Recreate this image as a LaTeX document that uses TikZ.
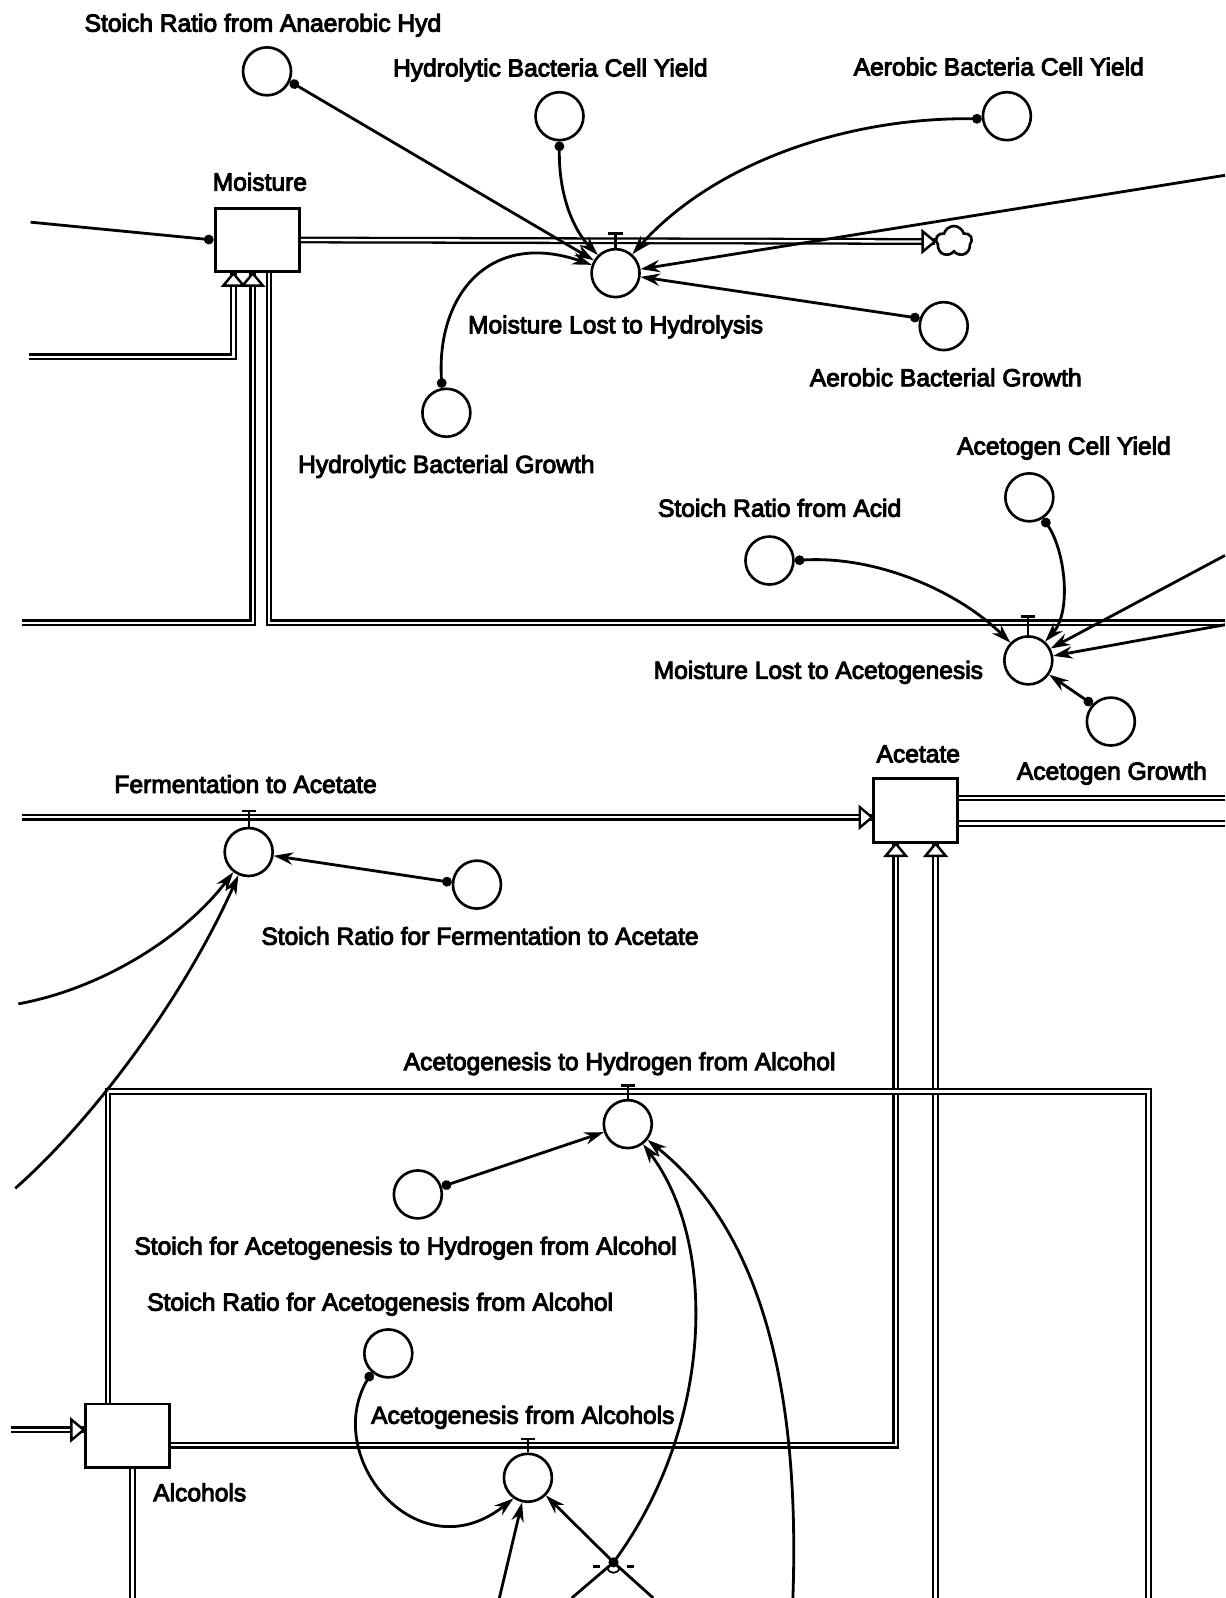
\documentclass[tikz,border=0pt]{standalone}
\usepackage{fontspec}
\setmainfont{Liberation Sans}
\newfontfamily\lblfont{Liberation Sans}[FakeBold=4]
\usetikzlibrary{arrows.meta,shapes.symbols}
\tikzset{
  stockbox/.style={draw,line width=1.7pt,fill=white,
                   minimum width=1.69cm,minimum height=1.28cm,inner sep=0pt},
  auxnode/.style={draw,circle,line width=1.5pt,fill=white,
                  minimum size=0.96cm,inner sep=0pt},
  lbl/.style={anchor=base,inner sep=0pt,font=\lblfont\fontsize{14}{17}\selectfont},
  pipe/.style={line width=1.3pt,double=white,double distance=1.3pt},
  infoarr/.style={{Circle[length=5.5pt]}-{Stealth[length=11pt,width=7pt]},line width=1.6pt},
  infotail/.style={{Circle[length=5.5pt]}-,line width=1.6pt},
  edgearr/.style={-{Stealth[length=11pt,width=7pt]},line width=1.6pt},
  valvemark/.style={line width=1.3pt},
  sinkcloud/.style={cloud,cloud puffs=5,draw,line width=1.5pt,
                    minimum width=0.72cm,minimum height=0.62cm,inner sep=0pt},
  flowtip/.pic={\draw[line width=1.4pt,fill=white] (0,0) -- (-12,-10) -- (-12,10) -- cycle;}
}

\begin{document}
\begin{tikzpicture}[x=0.0204cm,y=-0.0204cm]
  \useasboundingbox[fill=white] (0,0) rectangle (1202,1568);
  % stocks and sink
  \node[stockbox] (moist) at (252.5,235.5) {};
  \node[stockbox] (acet) at (898.5,795) {};
  \node[stockbox] (alc) at (125,1409) {};
  \node[sinkcloud] (sink) at (936,237) {};
  % rates and auxiliaries
  \node[auxnode] (sraHyd) at (262,70) {};
  \node[auxnode] (hbcy) at (549,114) {};
  \node[auxnode] (abcy) at (988,114) {};
  \node[auxnode] (mlh) at (604,268) {};
  \node[auxnode] (abg) at (926,320) {};
  \node[auxnode] (hbg) at (438,405) {};
  \node[auxnode] (acy) at (1010,488) {};
  \node[auxnode] (sra) at (755,550) {};
  \node[auxnode] (mla) at (1009,648) {};
  \node[auxnode] (ag) at (1090,708) {};
  \node[auxnode] (fta) at (244,836) {};
  \node[auxnode] (srf) at (468,868) {};
  \node[auxnode] (aha) at (616,1103) {};
  \node[auxnode] (sah) at (410,1172) {};
  \node[auxnode] (sraa) at (381,1328) {};
  \node[auxnode] (afa) at (518,1450) {};
  % labels
  \node[lbl] (sraHydL) at (258,31) {Stoich Ratio from Anaerobic Hyd};
  \node[lbl] (hbcyL) at (540,75) {Hydrolytic Bacteria Cell Yield};
  \node[lbl] (abcyL) at (980,74) {Aerobic Bacteria Cell Yield};
  \node[lbl] (moistL) at (255,187) {Moisture};
  \node[lbl] (mlhL) at (604,327) {Moisture Lost to Hydrolysis};
  \node[lbl] (abgL) at (928,379) {Aerobic Bacterial Growth};
  \node[lbl] (hbgL) at (438,464) {Hydrolytic Bacterial Growth};
  \node[lbl] (acyL) at (1044,446) {Acetogen Cell Yield};
  \node[lbl] (sraL) at (765,507) {Stoich Ratio from Acid};
  \node[lbl] (mlaL) at (803,666) {Moisture Lost to Acetogenesis};
  \node[lbl] (acetL) at (901,748) {Acetate};
  \node[lbl] (agL) at (1091,765) {Acetogen Growth};
  \node[lbl] (ftaL) at (241,778) {Fermentation to Acetate};
  \node[lbl] (srfL) at (471,927) {Stoich Ratio for Fermentation to Acetate};
  \node[lbl] (ahaL) at (608,1050) {Acetogenesis to Hydrogen from Alcohol};
  \node[lbl] (sahL) at (398,1231) {Stoich for Acetogenesis to Hydrogen from Alcohol};
  \node[lbl] (sraaL) at (373,1286) {Stoich Ratio for Acetogenesis from Alcohol};
  \node[lbl] (afaL) at (513,1397) {Acetogenesis from Alcohols};
  \node[lbl] (alcL) at (196,1473) {Alcohols};
  % flows
  \draw[pipe] (moist.east) -- (sink.west);
  \draw[pipe] (28,350) -| (229,0 |- moist.south);
  \draw[pipe] (22,611) -| (248,0 |- moist.south);
  \draw[pipe] (264,0 |- moist.south) |- (1202,611);
  \draw[pipe] (22,802) -- (acet.west |- 0,802);
  \draw[pipe] (acet.east |- 0,783) -- (1202,783);
  \draw[pipe] (acet.east |- 0,808) -- (1202,808);
  \draw[pipe] (alc.east |- 0,1418) -| (879,0 |- acet.south);
  \draw[pipe] (918,1568) -- (918,0 |- acet.south);
  \draw[pipe] (11,1403) -- (alc.west |- 0,1403);
  \draw[pipe] (106,0 |- alc.north) |- (1127,1071) -- (1127,1568);
  \draw[pipe] (130,0 |- alc.south) -- (130,1568);
  % flow heads
  \pic at (sink.west) {flowtip};
  \pic[rotate=90] at (229,0 |- moist.south) {flowtip};
  \pic[rotate=90] at (248,0 |- moist.south) {flowtip};
  \pic at (acet.west |- 0,802) {flowtip};
  \pic[rotate=90] at (879,0 |- acet.south) {flowtip};
  \pic[rotate=90] at (918,0 |- acet.south) {flowtip};
  \pic at (alc.west |- 0,1403) {flowtip};
  % valves
  \draw[valvemark] (mlh.north) -- (604,229) ++(-7,0) -- ++(14,0);
  \draw[valvemark] (mla.north) -- (1009,605) ++(-7,0) -- ++(14,0);
  \draw[valvemark] (fta.north) -- (244,796) ++(-7,0) -- ++(14,0);
  \draw[valvemark] (aha.north) -- (616,1065) ++(-7,0) -- ++(14,0);
  \draw[valvemark] (afa.north) -- (518,1412) ++(-7,0) -- ++(14,0);
  % loose ends of connectors
  \coordinate (mInfo) at (30,218);
  \coordinate (rTopA) at (1202,172);
  \coordinate (rAcA) at (1202,545);
  \coordinate (rAcB) at (1202,613);
  \coordinate (lFermA) at (18,985);
  \coordinate (lFermB) at (15,1166);
  \coordinate (botA) at (490,1568);
  \coordinate (botB) at (641,1568);
  \coordinate (botC) at (561,1568);
  \coordinate (botD) at (778,1568);
  \coordinate (xpt) at (602,1533);
  % connectors into Moisture Lost to Hydrolysis
  \draw[infotail] (moist.west) -- (mInfo);
  \draw[infoarr] (sraHyd.-24) -- (mlh);
  \draw[infoarr] (hbcy.south) .. controls (548,190) and (562,225) .. (mlh);
  \draw[infoarr] (abcy.186) .. controls (830,115) and (700,160) .. (mlh);
  \draw[edgearr] (rTopA) -- (mlh);
  \draw[infoarr] (abg.162) -- (mlh);
  \draw[infoarr] (hbg.100) .. controls (428,290) and (480,225) .. (mlh);
  % connectors into Moisture Lost to Acetogenesis
  \draw[infoarr] (acy.-57) .. controls (1045,540) and (1052,600) .. (mla);
  \draw[infoarr] (sra.east) .. controls (860,545) and (940,580) .. (mla);
  \draw[edgearr] (rAcA) -- (mla);
  \draw[edgearr] (rAcB) -- (mla);
  \draw[infoarr] (ag.137) -- (mla);
  % connectors into Fermentation to Acetate
  \draw[infoarr] (srf.175) -- (fta);
  \draw[edgearr] (lFermA) .. controls (100,970) and (180,920) .. (fta);
  \draw[edgearr] (lFermB) .. controls (90,1100) and (180,980) .. (fta);
  % connectors into the alcohol rates
  \draw[infoarr] (sah.18) -- (aha);
  \draw[edgearr] (botC) -- (xpt) .. controls (700,1400) and (705,1220) .. (aha);
  \draw[edgearr] (botD) .. controls (785,1370) and (750,1210) .. (aha);
  \draw[infoarr] (sraa.229) .. controls (315,1430) and (410,1545) .. (afa.235);
  \draw[edgearr] (botA) -- (afa);
  \draw[edgearr] (botB) -- (xpt) -- (afa);
  % small mark where the two lines cross
  \fill (xpt) circle (5);
  \draw[line width=1.3pt] (582,1537) -- (589,1537) (615,1537) -- (622,1537);
  \draw[line width=1pt] (596,1538) .. controls (597,1545) and (607,1545) .. (608,1538);
\end{tikzpicture}
\end{document}
